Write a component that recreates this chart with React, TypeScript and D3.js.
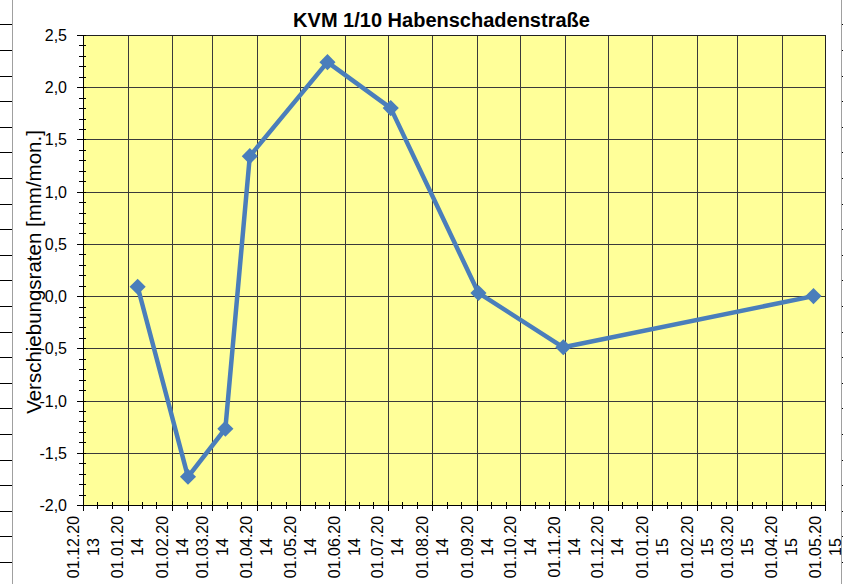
import { useEffect, useRef } from 'react'
import * as d3 from 'd3'

// measurement dates and displacement rates
const dates = ['2014-01-08', '2014-02-12', '2014-03-10', '2014-03-27', '2014-05-20', '2014-07-03', '2014-09-02', '2014-10-31', '2015-04-23']
const values = [0.09, -1.73, -1.27, 1.34, 2.24, 1.8, 0.03, -0.49, 0.0]

const xDomain = ['2013-12-01', '2015-05-01']
const yTicks = [-2.0, -1.5, -1.0, -0.5, 0.0, 0.5, 1.0, 1.5, 2.0, 2.5]

const title = 'KVM 1/10 Habenschadenstraße'
const yLabel = 'Verschiebungsraten [mm/mon.]'

export default function App() {
  const svgRef = useRef<SVGSVGElement>(null)

  useEffect(() => {
    document.body.style.margin = '0'
    if (!svgRef.current) return

    const svg = d3.select(svgRef.current)
    svg.selectAll('*').remove()

    const width = 843
    const height = 584
    const plot = { left: 83, right: 825, top: 35, bottom: 505 }
    const font = '"Liberation Sans", Arial, sans-serif'

    const parse = d3.utcParse('%Y-%m-%d')
    const data = dates.map((d, i) => ({ date: parse(d) as Date, value: values[i] }))
    const [x0, x1] = xDomain.map(d => parse(d) as Date)

    const x = d3.scaleUtc().domain([x0, x1]).range([plot.left, plot.right])
    const y = d3.scaleLinear().domain([-2, 2.5]).range([plot.bottom, plot.top])

    const crisp = (v: number) => Math.round(v) + 0.5

    svg.attr('width', width).attr('height', height).style('display', 'block').style('background', '#fff')

    // spreadsheet frame remnants at the edges
    const rowLines = d3.range(0, 22).map(k => 24.3 + k * 25.6)
    svg.append('line').attr('x1', 12.5).attr('x2', 12.5).attr('y1', 0).attr('y2', height).attr('stroke', '#a0a0a0')
    svg.append('line').attr('x1', 841.5).attr('x2', 841.5).attr('y1', 0).attr('y2', height).attr('stroke', '#a0a0a0')
    svg.selectAll('.rowL').data(rowLines).enter().append('line')
      .attr('x1', 0).attr('x2', 12).attr('y1', d => crisp(d)).attr('y2', d => crisp(d)).attr('stroke', '#000')
    svg.selectAll('.rowR').data(rowLines).enter().append('line')
      .attr('x1', 842).attr('x2', 843).attr('y1', d => crisp(d)).attr('y2', d => crisp(d)).attr('stroke', '#000')

    // plot background
    svg.append('rect')
      .attr('x', plot.left).attr('y', plot.top)
      .attr('width', plot.right - plot.left).attr('height', plot.bottom - plot.top)
      .attr('fill', '#ffff99')

    const months = d3.utcMonth.range(x0, d3.utcDay.offset(x1, 1))

    // grid
    const grid = svg.append('g').attr('stroke', '#3a3a3a').attr('stroke-width', 1)
    grid.selectAll('.vg').data(months).enter().append('line')
      .attr('x1', d => crisp(x(d))).attr('x2', d => crisp(x(d)))
      .attr('y1', plot.top).attr('y2', plot.bottom)
    grid.selectAll('.hg').data(yTicks).enter().append('line')
      .attr('x1', plot.left).attr('x2', plot.right)
      .attr('y1', d => crisp(y(d))).attr('y2', d => crisp(y(d)))

    // plot border
    svg.append('rect')
      .attr('x', crisp(plot.left)).attr('y', crisp(plot.top))
      .attr('width', plot.right - plot.left).attr('height', plot.bottom - plot.top)
      .attr('fill', 'none').attr('stroke', '#222')

    // y axis
    const yMinor = d3.range(-20, 26).map(v => v / 10)
    const ax = svg.append('g').attr('stroke', '#000')
    ax.append('line').attr('x1', crisp(plot.left)).attr('x2', crisp(plot.left)).attr('y1', plot.top).attr('y2', plot.bottom + 1)
    ax.selectAll('.ymi').data(yMinor).enter().append('line')
      .attr('x1', plot.left - 4).attr('x2', plot.left + 3)
      .attr('y1', d => crisp(y(d))).attr('y2', d => crisp(y(d)))
    ax.selectAll('.yma').data(yTicks).enter().append('line')
      .attr('x1', plot.left - 6).attr('x2', plot.left + 1)
      .attr('y1', d => crisp(y(d))).attr('y2', d => crisp(y(d)))

    // x axis
    const xMinor = months.flatMap(m => [d3.utcDay.offset(m, 10), d3.utcDay.offset(m, 20)]).filter(d => d < x1)
    ax.append('line').attr('x1', plot.left).attr('x2', plot.right + 1).attr('y1', crisp(plot.bottom)).attr('y2', crisp(plot.bottom))
    ax.selectAll('.xmi').data(xMinor).enter().append('line')
      .attr('x1', d => crisp(x(d))).attr('x2', d => crisp(x(d)))
      .attr('y1', plot.bottom - 3).attr('y2', plot.bottom + 4)
    ax.selectAll('.xma').data(months).enter().append('line')
      .attr('x1', d => crisp(x(d))).attr('x2', d => crisp(x(d)))
      .attr('y1', plot.bottom - 4).attr('y2', plot.bottom + 6)

    // y tick labels
    const fmt = (v: number) => v.toFixed(1).replace('.', ',')
    svg.selectAll('.ylab').data(yTicks).enter().append('text')
      .attr('x', 67).attr('y', d => y(d) + 6)
      .attr('text-anchor', 'end')
      .style('font-family', font).style('font-size', '16px').style('fill', '#000')
      .text(d => fmt(d))

    // x tick labels, two lines rotated
    const fullFmt = d3.utcFormat('%d.%m.%Y')
    const xl = svg.selectAll('.xlab').data(months).enter().append('text')
      .attr('transform', d => `translate(${x(d) - 4.5},547) rotate(-90)`)
      .attr('text-anchor', 'middle')
      .style('font-family', font).style('font-size', '16px').style('fill', '#000')
    xl.append('tspan').attr('x', 0).attr('y', 0).text(d => fullFmt(d).slice(0, 8))
    xl.append('tspan').attr('x', 0).attr('y', 20).text(d => fullFmt(d).slice(8))

    // title
    svg.append('text')
      .attr('x', 441.5).attr('y', 26.5)
      .attr('text-anchor', 'middle')
      .style('font-family', font).style('font-size', '20px').style('font-weight', 'bold').style('fill', '#000')
      .text(title)

    // y axis label
    svg.append('text')
      .attr('transform', `translate(41,272) rotate(-90)`)
      .attr('text-anchor', 'middle')
      .style('font-family', font).style('font-size', '20.5px').style('fill', '#000')
      .text(yLabel)

    // series
    const line = d3.line<{ date: Date; value: number }>()
      .x(d => x(d.date))
      .y(d => y(d.value))

    svg.append('path')
      .datum(data)
      .attr('d', line)
      .attr('fill', 'none')
      .attr('stroke', '#4a7ebb')
      .attr('stroke-width', 4.5)
      .attr('stroke-linejoin', 'round')

    svg.selectAll('.marker').data(data).enter().append('path')
      .attr('d', d3.symbol(d3.symbolSquare, 130)())
      .attr('transform', d => `translate(${x(d.date)},${y(d.value)}) rotate(45)`)
      .attr('fill', '#4a7ebb')
  }, [])

  return <svg ref={svgRef} />
}
